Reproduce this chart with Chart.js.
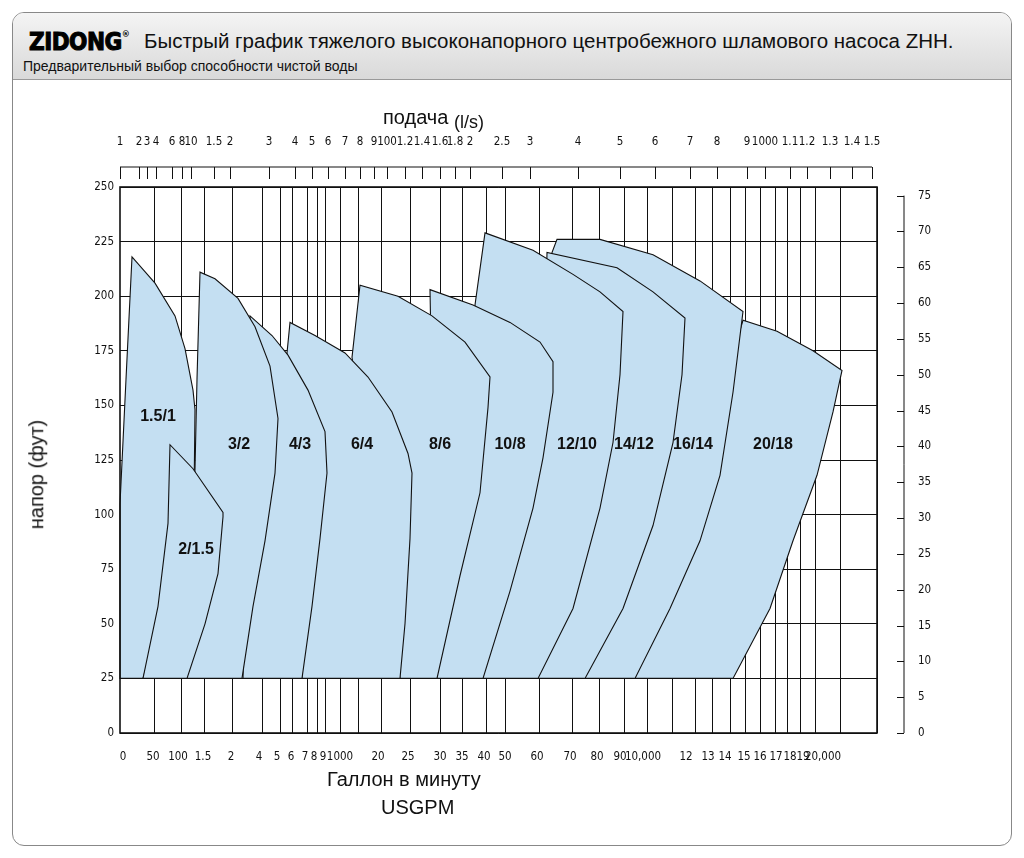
<!DOCTYPE html>
<html><head><meta charset="utf-8">
<script src="https://cdn.jsdelivr.net/npm/chart.js@4.4.0/dist/chart.umd.min.js"></script>
<style>
body{margin:0;width:1024px;height:858px;background:#fff;font-family:"Liberation Sans",Arial,sans-serif;position:relative;overflow:hidden}
#frame{position:absolute;left:12px;top:12px;width:998px;height:832px;border:1.5px solid #888;border-radius:12px;overflow:hidden}
#head{position:absolute;left:0;top:0;width:100%;height:66px;background:linear-gradient(#f4f4f4,#d9d9d9);border-bottom:1px solid #999}
#logo{position:absolute;left:16px;top:15px;font:bold 24px "DejaVu Sans Condensed","DejaVu Sans",sans-serif;letter-spacing:-0.5px;-webkit-text-stroke:1px #000}
#logo sup{font-size:9px;vertical-align:13px;-webkit-text-stroke:0}
#t1{position:absolute;left:131px;top:16px;font-size:20.5px;white-space:nowrap;color:#111}
#t2{position:absolute;left:10px;top:45px;font-size:14px;color:#111}
canvas{position:absolute;left:0;top:0}
.tx{position:absolute;font-size:20px;color:#111;white-space:nowrap}
</style></head><body>
<div id="frame"><div id="head"><div id="logo">ZIDONG<sup>®</sup></div>
<div id="t1">Быстрый график тяжелого высоконапорного центробежного шламового насоса ZHH.</div>
<div id="t2">Предварительный выбор способности чистой воды</div></div></div>
<canvas id="c" width="1024" height="858"></canvas>
<div class="tx" style="left:383px;top:106px">подача <span style="font-size:18px;position:relative;top:4px">(l/s)</span></div>
<div class="tx" style="left:-18px;top:463px;transform:rotate(-90deg)">напор (фут)</div>
<div class="tx" style="left:327px;top:768px">Галлон в минуту</div>
<div class="tx" style="left:381px;top:796px">USGPM</div>
<script>
// x axis is in chart-position units (0..757) because the reference uses a non-uniform scale
const bottomPos=[3,33,58,83,111,139,157,171,185,194,203,220,258,288,320,342,364,385,417,450,477,500,523,566,588,605,624,640,656,670,683,703];
const bottomLabels=["0","50","100","1.5","2","4","5","6","7","8","9","1000","20","25","30","35","40","50","60","70","80","90","10,000","12","13","14","15","16","17","18","19","20,000"];
const topPos=[0,19,27,36,52,62,71,94,110,149,175,192,208,225,240,254,267,285,302,320,335,350,382,410,458,500,535,570,597,627,645,670,687,710,732,752];
const topLabels=["1","2","3","4","6","8","10","1.5","2","3","4","5","6","7","8","9","100","1.2","1.4","1.6","1.8","2","2.5","3","4","5","6","7","8","9","1000","1.1","1.2","1.3","1.4","1.5"];
const gridPos=[34,61,84,112,142,160,172,187,197,205,220,238,261,290,320,342,366,385,419,452,479,504,527,552,575,592,610,625,640,655,667,680,695,720,757];
const headFt=[0,25,50,75,100,125,150,175,200,225,250];
const headM=[0,5,10,15,20,25,30,35,40,45,50,55,60,65,70,75];
const pumps=["1.5/1","2/1.5","3/2","4/3","6/4","8/6","10/8","12/10","14/12","16/14","20/18"];
const shapes=[
[[0,25],[0,105],[6,162],[12,218],[35,206],[55,191],[65,176],[73,157],[75,148],[74,107],[23,25]],
[[23,25],[38,58],[48,96],[50,132],[73,121],[103,101],[103,99],[98,73],[85,50],[67,25]],
[[67,25],[75,121],[77,162],[80,211],[95,208],[118,199],[135,186],[150,168],[158,144],[155,119],[145,88],[133,58],[122,25]],
[[123,25],[130,191],[152,182],[168,173],[188,157],[205,138],[207,119],[200,89],[192,58],[182,25]],
[[182,25],[167,174],[170,188],[195,182],[225,174],[248,163],[272,147],[288,128],[292,119],[290,89],[285,50],[280,25]],
[[280,25],[232,172],[240,205],[278,200],[312,191],[345,179],[370,163],[368,149],[360,110],[340,72],[317,25]],
[[317,25],[310,203],[353,196],[390,188],[420,179],[433,170],[433,156],[423,126],[413,103],[390,65],[363,25]],
[[363,25],[355,196],[365,229],[413,221],[453,210],[480,202],[503,193],[500,164],[493,133],[480,103],[453,57],[418,25]],
[[418,25],[427,220],[497,213],[533,202],[565,190],[562,164],[553,133],[533,95],[503,57],[465,25]],
[[465,25],[432,220],[437,226],[480,226],[533,219],[580,207],[623,193],[613,156],[600,118],[580,88],[550,57],[515,25]],
[[515,25],[623,189],[657,184],[693,175],[722,166],[713,147],[697,118],[673,88],[650,57],[613,25]]
];
const labelPos=[[38,145],[76,84],[119,132],[180,132],[242,132],[320,132],[390,132],[457,132],[514,132],[573,132],[653,132]];
const drawOrder=[10,9,8,7,6,5,4,3,2,0,1];

const datasets=pumps.map((p,i)=>({label:p,data:shapes[i].map(([x,y])=>({x,y})),showLine:false,pointRadius:0,xAxisID:'x',yAxisID:'y'}));
const narrow="'DejaVu Sans Condensed','Liberation Sans',sans-serif";
const fixed=(prop,v)=>s=>{s[prop]=v;};
const plug={id:'p',
 beforeDatasetsDraw(ch){
  const c=ch.ctx,xs=ch.scales.x,ys=ch.scales.y,ca=ch.chartArea;
  c.save();
  drawOrder.forEach(i=>{const pts=ch.getDatasetMeta(i).data;c.beginPath();pts.forEach((p,k)=>k?c.lineTo(p.x,p.y):c.moveTo(p.x,p.y));c.closePath();
   c.fillStyle='#c4dff2';c.fill();c.strokeStyle='#111';c.lineWidth=1.1;c.stroke();});
  c.fillStyle='#111';c.font="bold 16px 'Liberation Sans',sans-serif";c.textAlign='center';c.textBaseline='middle';
  labelPos.forEach(([x,y],i)=>c.fillText(pumps[i],xs.getPixelForValue(x),ys.getPixelForValue(y)));
  c.strokeStyle='#111';c.lineWidth=1.6;c.strokeRect(ca.left,ca.top,ca.right-ca.left,ca.bottom-ca.top);
  const yl=ca.top-20;c.lineWidth=1;c.beginPath();c.moveTo(xs.getPixelForValue(0),yl);c.lineTo(xs.getPixelForValue(752),yl);
  topPos.forEach(v=>{const px=Math.round(xs.getPixelForValue(v))+0.5;c.moveTo(px,yl);c.lineTo(px,yl+12);});
  const yr=ch.scales.yr,xr=ca.right+27;c.moveTo(xr,yr.getPixelForValue(0));c.lineTo(xr,yr.getPixelForValue(75));
  headM.forEach(v=>{const py=Math.round(yr.getPixelForValue(v))+0.5;c.moveTo(xr-7,py);c.lineTo(xr,py);});
  c.stroke();c.restore();}
};
const tf={family:narrow,size:11.5};
new Chart(document.getElementById('c'),{type:'scatter',data:{datasets},plugins:[plug],
options:{responsive:false,animation:false,layout:{padding:0},plugins:{legend:{display:false},tooltip:{enabled:false}},
scales:{
 x:{type:'linear',position:'bottom',min:0,max:757,afterFit:fixed('height',125),
  afterBuildTicks:s=>{s.ticks=bottomPos.map(v=>({value:v}));},
  grid:{display:false},border:{display:false},
  ticks:{autoSkip:false,maxRotation:0,padding:9,color:'#111',font:tf,callback:(v,i)=>bottomLabels[i]}},
 xt:{type:'linear',position:'top',min:0,max:757,afterFit:fixed('height',187),
  afterBuildTicks:s=>{s.ticks=topPos.map(v=>({value:v}));},
  grid:{display:false},border:{display:false},
  ticks:{autoSkip:false,maxRotation:0,padding:30,color:'#111',font:tf,callback:(v,i)=>topLabels[i]}},
 xg:{type:'linear',position:'bottom',min:0,max:757,afterFit:fixed('height',0),
  afterBuildTicks:s=>{s.ticks=gridPos.map(v=>({value:v}));},
  grid:{color:'#111',lineWidth:1,drawTicks:false},border:{display:false},ticks:{display:false}},
 y:{type:'linear',position:'left',min:0,max:250,afterFit:fixed('width',120),
  afterBuildTicks:s=>{s.ticks=headFt.map(v=>({value:v}));},
  grid:{color:'#111',lineWidth:1,drawTicks:false},border:{display:false},
  ticks:{padding:6,color:'#111',font:tf}},
 yr:{type:'linear',position:'right',min:0,max:250*0.3048,afterFit:fixed('width',147),
  afterBuildTicks:s=>{s.ticks=headM.map(v=>({value:v}));},
  grid:{display:false},border:{display:false},
  ticks:{padding:33,color:'#111',font:tf}}
}}});
</script></body></html>
